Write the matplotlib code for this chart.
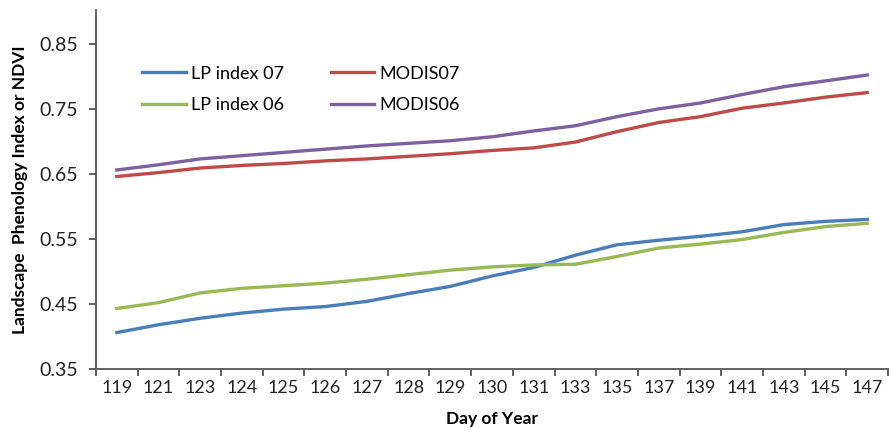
import matplotlib.pyplot as plt
from matplotlib.ticker import FixedLocator, NullFormatter

plt.rcParams['font.family'] = ['Lato', 'DejaVu Sans']

# dager (kategorier langs x)
dager = ["119", "121", "123", "124", "125", "126", "127", "128", "129", "130",
         "131", "133", "135", "137", "139", "141", "143", "145", "147"]

# verdier lest av grafen
lp07 = [0.406, 0.418, 0.428, 0.436, 0.442, 0.446, 0.454, 0.466, 0.477, 0.493,
        0.506, 0.525, 0.541, 0.548, 0.554, 0.561, 0.572, 0.577, 0.580]
lp06 = [0.443, 0.452, 0.467, 0.474, 0.478, 0.482, 0.488, 0.495, 0.502, 0.507,
        0.510, 0.511, 0.523, 0.536, 0.542, 0.549, 0.560, 0.569, 0.574]
modis07 = [0.646, 0.652, 0.659, 0.663, 0.666, 0.670, 0.673, 0.677, 0.681, 0.686,
           0.690, 0.699, 0.715, 0.729, 0.738, 0.751, 0.759, 0.768, 0.775]
modis06 = [0.656, 0.664, 0.673, 0.678, 0.683, 0.688, 0.693, 0.697, 0.701, 0.707,
           0.716, 0.724, 0.738, 0.750, 0.759, 0.772, 0.784, 0.793, 0.802]

yticks = [0.35, 0.45, 0.55, 0.65, 0.75, 0.85]

fig = plt.figure(figsize=(8.92, 4.29), dpi=100)
ax = fig.add_axes([0.1076, 0.1399, 0.888, 0.8368])

x = list(range(len(dager)))
# rekkefolgen gir riktig plassering i legenden med to kolonner
ax.plot(x, lp07, color="#4a7ebb", lw=2.4, label="LP index 07")
ax.plot(x, lp06, color="#98b954", lw=2.4, label="LP index 06")
ax.plot(x, modis07, color="#be4b48", lw=2.4, label="MODIS07")
ax.plot(x, modis06, color="#7d60a0", lw=2.4, label="MODIS06")

ax.set_xlim(-0.5, len(dager) - 0.5)
ax.set_ylim(0.35, 0.902)
ax.set_yticks(yticks)
ax.set_yticklabels([f"{v:.2f}" for v in yticks])
ax.set_xticks(x)
ax.set_xticklabels(dager)
ax.xaxis.set_minor_locator(FixedLocator([i - 0.5 for i in range(len(dager) + 1)]))
ax.xaxis.set_minor_formatter(NullFormatter())
ax.tick_params(axis="x", which="major", length=0, pad=8, labelsize=13, colors="#222222")
ax.tick_params(axis="x", which="minor", length=5, width=1.2, color="#444444")
ax.tick_params(axis="y", length=5, width=1.2, color="#444444", labelsize=14,
               labelcolor="#222222", pad=8)

for s in ["top", "right"]:
    ax.spines[s].set_visible(False)
for s in ["left", "bottom"]:
    ax.spines[s].set_color("#555555")
    ax.spines[s].set_linewidth(1.3)

ax.set_xlabel("Day of Year", fontsize=12.5, fontweight="bold", labelpad=11)
ax.set_ylabel("Landscape  Phenology Index or NDVI", fontsize=12.5, fontweight="bold", labelpad=8)

ax.legend(loc="upper left", bbox_to_anchor=(0.038, 0.89), ncol=2, frameon=False,
          fontsize=13, handlelength=2.4, columnspacing=2.6, labelspacing=0.85,
          handletextpad=0.3)

fig.savefig("out.png", dpi=100)
